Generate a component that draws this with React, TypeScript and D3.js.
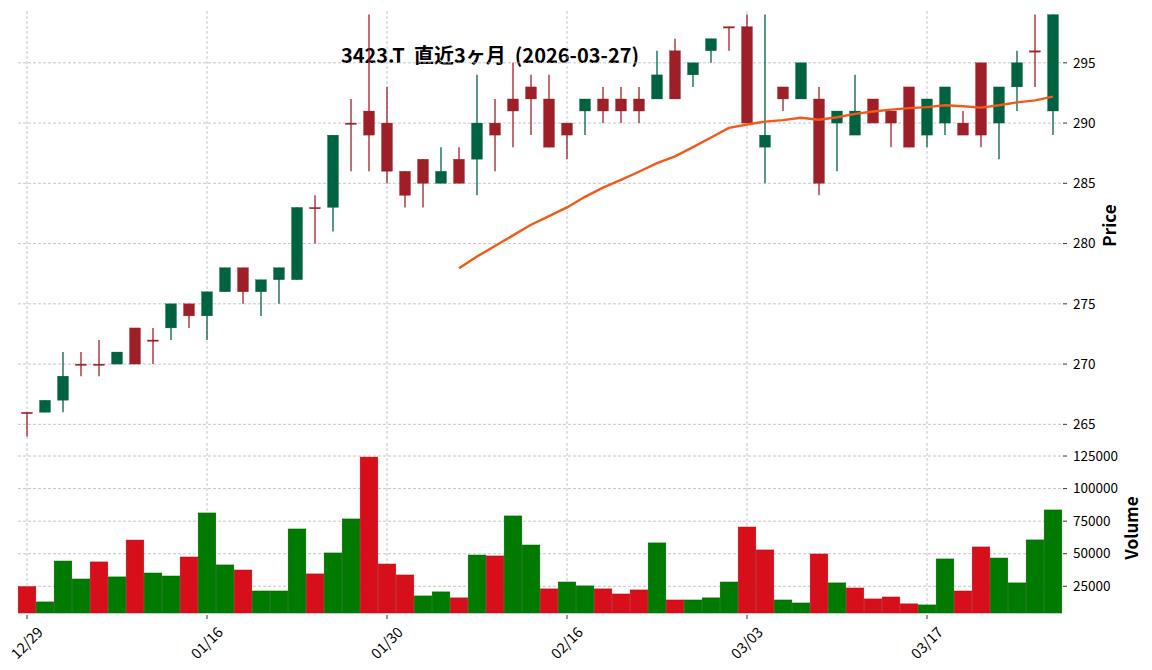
import React from 'react';
import * as d3 from 'd3';

const dates = ['12/29','12/30','01/05','01/06','01/07','01/08','01/09','01/13','01/14','01/15','01/16','01/19','01/20','01/21','01/22','01/23','01/26','01/27','01/28','01/29','01/30','02/02','02/03','02/04','02/05','02/06','02/09','02/10','02/12','02/13','02/16','02/17','02/18','02/19','02/20','02/24','02/25','02/26','02/27','03/02','03/03','03/04','03/05','03/06','03/09','03/10','03/11','03/12','03/13','03/16','03/17','03/18','03/19','03/23','03/24','03/25','03/26','03/27'];

const opens = [266,266,267,270,270,270,273,272,273,275,274,276,278,276,277,277,283,283,290,291,290,286,287,285,287,287,290,292,293,292,290,291,292,292,292,292,296,294,296,298,298,288,293,292,292,290,289,292,291,293,289,290,290,295,290,293,296,291];
const highs = [266,267,271,271,272,271,273,273,275,275,276,278,278,277,278,283,284,289,292,299,293,286,287,288,288,294,292,295,294,294,290,292,293,293,293,296,297,295,297,298,299,299,293,295,293,291,294,292,291,293,292,293,291,295,293,296,299,299];
const lows = [264,266,266,269,269,270,270,270,272,273,272,276,275,274,275,277,280,281,286,286,285,283,283,285,285,284,286,288,289,288,287,289,290,290,290,292,292,293,295,296,290,285,291,292,284,286,289,290,288,288,288,289,289,288,287,291,293,289];
const closes = [266,267,269,270,270,271,270,272,275,274,276,278,276,277,278,283,283,289,290,289,286,284,285,286,285,290,289,291,292,288,289,292,291,291,291,294,292,295,297,298,290,289,292,295,285,291,291,290,290,288,292,293,289,289,293,295,296,299];
const volumes = [24700,13000,44400,30600,43700,32200,60500,35200,32900,47500,81300,41400,37500,21400,21400,69000,34500,50600,76700,124200,42100,33700,17600,20700,16100,49000,48300,79000,56700,23000,28300,25300,23000,19100,22200,58300,14500,14500,16100,28300,70500,52900,14500,12200,49800,27600,23700,15300,16800,11500,10700,46000,21400,55200,46700,27600,60600,83600];

const priceTicks = [265,270,275,280,285,290,295];
const volumeTicks = [25000,50000,75000,100000,125000];
const xTickLabels = ['12/29','01/16','01/30','02/16','03/03','03/17'];
const maPeriod = 25;
const titleText = '3423.T  直近3ヶ月  (2026-03-27)';

const UP = '#006340';
const DOWN = '#9f1f28';
const VUP = '#007a00';
const VDOWN = '#d60f1a';
const MA_COLOR = '#f25a1c';
const GRID = '#b8b8b8';
const FONT = '"Noto Sans CJK JP", "Noto Sans", sans-serif';

export default function App() {
  const W = 1152, H = 670;
  const n = dates.length;
  const x = d3.scaleLinear().domain([-0.5, n - 0.5]).range([18, 1062]);
  const yP = d3.scaleLinear().domain([263.7, 299.3]).range([440, 11]);
  const yV = d3.scaleLinear().domain([4500, 135000]).range([613, 443]);
  const step = x(1) - x(0);
  const bodyW = step * 0.61;
  const volW = step * 0.98;

  const ma: [number, number][] = [];
  for (let i = maPeriod - 1; i < n; i++) {
    const s = d3.sum(closes.slice(i - maPeriod + 1, i + 1));
    ma.push([i, s / maPeriod]);
  }
  const maLine = d3.line<[number, number]>().x(d => x(d[0])).y(d => yP(d[1]))(ma) || '';

  const xTickIdx = xTickLabels.map(l => dates.indexOf(l));
  const [pLeft, pRight] = x.range();

  return (
    <svg width={W} height={H} style={{ position: 'absolute', left: 0, top: 0, background: '#fff' }} fontFamily={FONT}>
      {/* title (drawn beneath plot marks) */}
      <text x={490} y={63} textAnchor="middle" fontSize={20} fontWeight="bold" fill="#000" style={{ whiteSpace: 'pre' }} xmlSpace="preserve">{titleText}</text>

      {/* grid price */}
      {priceTicks.map(t => (
        <line key={'pg' + t} x1={pLeft} x2={pRight} y1={yP(t)} y2={yP(t)} stroke={GRID} strokeWidth={0.8} strokeDasharray="3,2" />
      ))}
      {xTickIdx.map(i => (
        <line key={'pvg' + i} x1={x(i)} x2={x(i)} y1={yP.range()[1]} y2={yP.range()[0]} stroke={GRID} strokeWidth={0.8} strokeDasharray="3,2" />
      ))}
      {/* grid volume */}
      {volumeTicks.map(t => (
        <line key={'vg' + t} x1={pLeft} x2={pRight} y1={yV(t)} y2={yV(t)} stroke={GRID} strokeWidth={0.8} strokeDasharray="3,2" />
      ))}
      {xTickIdx.map(i => (
        <line key={'vvg' + i} x1={x(i)} x2={x(i)} y1={yV.range()[1]} y2={yV.range()[0]} stroke={GRID} strokeWidth={0.8} strokeDasharray="3,2" />
      ))}

      {/* candles */}
      {dates.map((d, i) => {
        const up = closes[i] > opens[i];
        const c = up ? UP : DOWN;
        const top = yP(Math.max(opens[i], closes[i]));
        const bot = yP(Math.min(opens[i], closes[i]));
        return (
          <g key={'c' + i}>
            <line x1={x(i)} x2={x(i)} y1={yP(highs[i])} y2={yP(lows[i])} stroke={c} strokeWidth={1.3} />
            <rect x={x(i) - bodyW / 2} y={top} width={bodyW} height={Math.max(bot - top, 1.4)} fill={c} stroke={c} strokeWidth={0.3} />
          </g>
        );
      })}

      {/* moving average */}
      <path d={maLine} fill="none" stroke={MA_COLOR} strokeWidth={2.4} strokeLinejoin="round" />

      {/* volume */}
      {volumes.map((v, i) => {
        const up = i === 0 ? closes[i] > opens[i] : closes[i] > closes[i - 1];
        const c = up ? VUP : VDOWN;
        return (
          <rect key={'v' + i} x={x(i) - volW / 2} y={yV(v)} width={volW} height={yV.range()[0] - yV(v)} fill={c} stroke={up ? '#006200' : '#b80c15'} strokeWidth={0.5} />
        );
      })}

      {/* price axis */}
      {priceTicks.map(t => (
        <g key={'pt' + t}>
          <line x1={pRight + 1} x2={pRight + 5} y1={yP(t)} y2={yP(t)} stroke="#000" strokeWidth={0.8} />
          <text x={pRight + 11} y={yP(t)} dy="0.35em" fontSize={13.5} fill="#000">{t}</text>
        </g>
      ))}
      <text transform={`translate(1116,${(yP.range()[0] + yP.range()[1]) / 2}) rotate(-90)`} textAnchor="middle" fontSize={17} fontWeight="bold" fill="#000">Price</text>

      {/* volume axis */}
      {volumeTicks.map(t => (
        <g key={'vt' + t}>
          <line x1={pRight + 1} x2={pRight + 5} y1={yV(t)} y2={yV(t)} stroke="#000" strokeWidth={0.8} />
          <text x={pRight + 11} y={yV(t)} dy="0.35em" fontSize={13.5} fill="#000">{t}</text>
        </g>
      ))}
      <text transform={`translate(1138,${(yV.range()[0] + yV.range()[1]) / 2}) rotate(-90)`} textAnchor="middle" fontSize={17} fontWeight="bold" fill="#000">Volume</text>

      {/* x axis */}
      {xTickIdx.map((i, k) => (
        <g key={'xt' + i}>
          <line x1={x(i)} x2={x(i)} y1={615} y2={619} stroke="#000" strokeWidth={0.8} />
          <text transform={`translate(${x(i)},${643}) rotate(-45)`} textAnchor="middle" dy="0.35em" fontSize={14.5} fill="#000">{xTickLabels[k]}</text>
        </g>
      ))}
    </svg>
  );
}
